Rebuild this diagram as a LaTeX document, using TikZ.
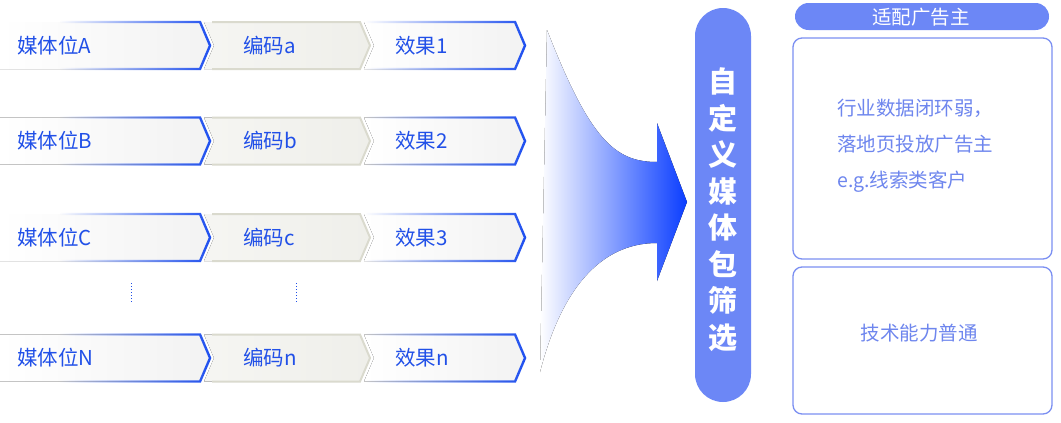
\documentclass[tikz,border=0pt]{standalone}
\usepackage{fontspec}
\setmainfont{Noto Sans CJK SC}
\usetikzlibrary{fadings}
\definecolor{tblue}{HTML}{2150E8}
\definecolor{bblue}{HTML}{1E4FF0}
\definecolor{pill}{HTML}{6C87F6}
\definecolor{btxt}{HTML}{6E86EE}
\definecolor{bbord}{HTML}{7B8FF2}
\definecolor{gbord}{HTML}{DADACE}
\definecolor{segg}{HTML}{EFEFEA}
\definecolor{arrowb}{HTML}{0A3DFF}
\tikzfading[name=fadeR, left color=transparent!100, middle color=transparent!15, right color=transparent!0]
\tikzset{
  segtext/.style={anchor=base west, text=tblue, font=\fontsize{20.5}{22}\selectfont, inner sep=0pt},
  bluebd/.style={draw=bblue, line width=2.4pt, line join=miter, path fading=fadeR},
  greybd/.style={draw=gbord, line width=2pt, line join=miter},
  boxtxt/.style={text=btxt, font=\fontsize{19.5}{36}\selectfont, inner sep=0pt},
  rbox/.style={draw=bbord, line width=1.3pt, rounded corners=9pt, fill=white},
  dots/.style={draw=tblue, dotted, line width=1pt},
}
\begin{document}
\begin{tikzpicture}[x=1pt,y=-1pt]
\useasboundingbox (0,0) rectangle (1061,423);
\fill[white] (0,0) rectangle (1061,423);
\foreach \n/\yc/\a/\b/\c in {1/45.5/A/a/1, 2/141/B/b/2, 3/237.5/C/c/3, 4/358/N/n/n}{
  % segment 1
  \fill[left color=white, right color=black!5] (0,\yc-23.5) -- (200,\yc-23.5) -- (210,\yc) -- (200,\yc+23.5) -- (0,\yc+23.5) -- cycle;
  \draw[bluebd] (60,\yc-23.5) -- (200,\yc-23.5) -- (210,\yc) -- (200,\yc+23.5) -- (60,\yc+23.5);
  % segment 2
  \fill[left color=segg!60, right color=segg] (204,\yc-23.5) -- (360,\yc-23.5) -- (370,\yc) -- (360,\yc+23.5) -- (204,\yc+23.5) -- (214,\yc) -- cycle;
  \draw[greybd] (212,\yc-23.5) -- (360,\yc-23.5) -- (370,\yc) -- (360,\yc+23.5) -- (212,\yc+23.5);
  % segment 3
  \fill[left color=white, right color=black!5] (364,\yc-23.5) -- (515,\yc-23.5) -- (525,\yc) -- (515,\yc+23.5) -- (364,\yc+23.5) -- (374,\yc) -- cycle;
  \draw[bluebd] (366,\yc-23.5) -- (515,\yc-23.5) -- (525,\yc) -- (515,\yc+23.5) -- (366,\yc+23.5);
  \node[segtext] (m\n) at (17,\yc+7.5) {媒体位\a};
  \node[segtext] (c\n) at (243,\yc+7.5) {编码\b};
  \node[segtext] (e\n) at (395,\yc+7.5) {效果\c};
}
\draw[dots] (131,283) -- (131,302);
\draw[dots] (296,283) -- (296,302);
% big arrow
\fill[left color=white, right color=arrowb, middle color=arrowb!50]
  (547,30) .. controls (590,140) and (615,162) .. (657,162) -- (657,123) -- (687,202)
  -- (657,281) -- (657,243) .. controls (610,243) and (565,275) .. (540,372) -- cycle;
% pill
\fill[pill, rounded corners=28pt] (695,8) rectangle (751,402);
\node[text=white, font=\fontsize{29}{36.5}\selectfont\bfseries, align=center, inner sep=0pt] (filter) at (723,209.5)
  {自\\定\\义\\媒\\体\\包\\筛\\选};
% header
\fill[pill, rounded corners=13.5pt] (795,3) rectangle (1049,30);
\node[text=white, font=\fontsize{19.5}{20}\selectfont, inner sep=0pt] (hdr) at (921,17) {适配广告主};
% boxes
\draw[rbox] (793,38) rectangle (1052,259);
\draw[rbox] (793,267) rectangle (1052,414);
\node[boxtxt, align=left, anchor=west] (t1) at (837,146) {行业数据闭环弱，\\落地页投放广告主\\e.g.线索类客户};
\node[boxtxt] (t2) at (919,333) {技术能力普通};
\end{tikzpicture}
\end{document}
